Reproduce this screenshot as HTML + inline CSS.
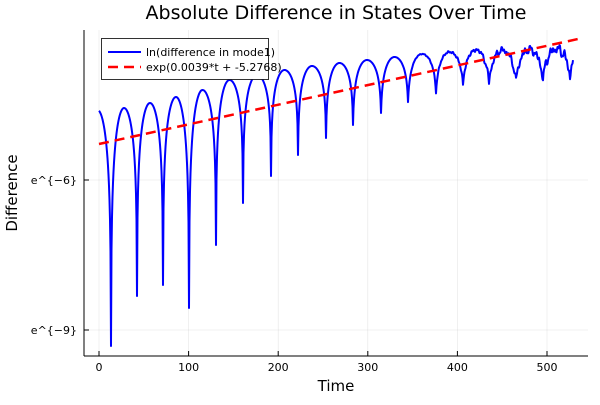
<!DOCTYPE html>
<html><head><meta charset="utf-8"><style>
html,body{margin:0;padding:0;background:#fff;}
svg text{font-family:"DejaVu Sans","Liberation Sans",sans-serif;}
</style></head><body>
<svg id="s" width="600" height="400" viewBox="0 0 600 400" xmlns="http://www.w3.org/2000/svg">
<rect width="600" height="400" fill="#fff"/>
<g stroke="#000" stroke-opacity="0.1" stroke-width="0.6">
<line x1="99" y1="30" x2="99" y2="356"/><line x1="188.6" y1="30" x2="188.6" y2="356"/>
<line x1="278.2" y1="30" x2="278.2" y2="356"/><line x1="367.8" y1="30" x2="367.8" y2="356"/>
<line x1="457.4" y1="30" x2="457.4" y2="356"/><line x1="547" y1="30" x2="547" y2="356"/>
<line x1="84" y1="180" x2="588" y2="180"/><line x1="84" y1="330" x2="588" y2="330"/>
</g>
<g stroke="#000" stroke-width="1">
<line x1="84" y1="356" x2="588" y2="356"/><line x1="84" y1="30" x2="84" y2="356"/>
<line x1="99" y1="356" x2="99" y2="351"/><line x1="188.6" y1="356" x2="188.6" y2="351"/>
<line x1="278.2" y1="356" x2="278.2" y2="351"/><line x1="367.8" y1="356" x2="367.8" y2="351"/>
<line x1="457.4" y1="356" x2="457.4" y2="351"/><line x1="547" y1="356" x2="547" y2="351"/>
<line x1="84" y1="180" x2="89" y2="180"/><line x1="84" y1="330" x2="89" y2="330"/>
</g>
<g font-size="11" fill="#000" text-anchor="middle">
<text x="99" y="371">0</text><text x="188.6" y="371">100</text><text x="278.2" y="371">200</text>
<text x="367.8" y="371">300</text><text x="457.4" y="371">400</text><text x="547" y="371">500</text>
</g>
<g font-size="11" fill="#000" text-anchor="end" style="font-family:'DejaVu Sans Mono','Liberation Mono',monospace">
<text x="77" y="184">e^{−6}</text><text x="77" y="334">e^{−9}</text>
</g>
<text x="336" y="391" font-size="15" text-anchor="middle">Time</text>
<text transform="translate(17,193) rotate(-90)" font-size="15" text-anchor="middle">Difference</text>
<text x="336" y="19" font-size="19" text-anchor="middle">Absolute Difference in States Over Time</text>
<path id="blue" fill="none" stroke="#0000ff" stroke-width="2" stroke-linejoin="round"/>
<line x1="99" y1="144" x2="578" y2="39" stroke="#ff0000" stroke-width="2.5" stroke-dasharray="10,6"/>
<rect x="101.5" y="38.5" width="167" height="41" fill="#fff" stroke="#000" stroke-width="0.8"/>
<line x1="108" y1="52" x2="141" y2="52" stroke="#0000ff" stroke-width="2"/>
<line x1="108" y1="67" x2="141" y2="67" stroke="#ff0000" stroke-width="2.5" stroke-dasharray="10,6"/>
<text x="146" y="56" font-size="11">ln(difference in mode1)</text>
<text x="146" y="71" font-size="11">exp(0.0039*t + -5.2768)</text>
</svg>
<script>
var dx=[84,111,137,163,189,216,243,271,298,326,353,381,408,436,463,489,516,543,570,597];
var dy=[300,346,296,285,308,245,203,176,155,138,125,113,102,93,85,82,80,78,75,72];
var py=[110,108,103,97,90,80,75,70,66,63,60,57,54,52,50,49,48,47,46];
var pts=[];
for(var i=0;i<dx.length-1;i++){
 var e=Math.min(0.25,i<7?0.012:0.012*Math.pow(1.4,i-6));
 var L0=Math.log(1+e),L=Math.log(e)-L0;
 for(var x=dx[i];x<dx[i+1];x+=0.5){
  if(x<99||x>573)continue;
  var s=(x-dx[i])/(dx[i+1]-dx[i]);
  var v=(Math.log(Math.sin(Math.PI*s)+e)-L0)/L;
  var D=s<0.5?dy[i]:dy[i+1];
  var y=py[i]+(D-py[i])*v;
  if(x>400){var a=(x-400)/170;y+=a*(2*Math.sin(x*1.3)+2*Math.sin(x*2.7+1)+(x>480?6*Math.pow(Math.abs(Math.sin(x*0.45)),4):0));}
  pts.push(x.toFixed(1)+","+y.toFixed(1));
 }
}
document.getElementById("blue").setAttribute("d","M"+pts.join(" L"));
</script>
</body></html>
